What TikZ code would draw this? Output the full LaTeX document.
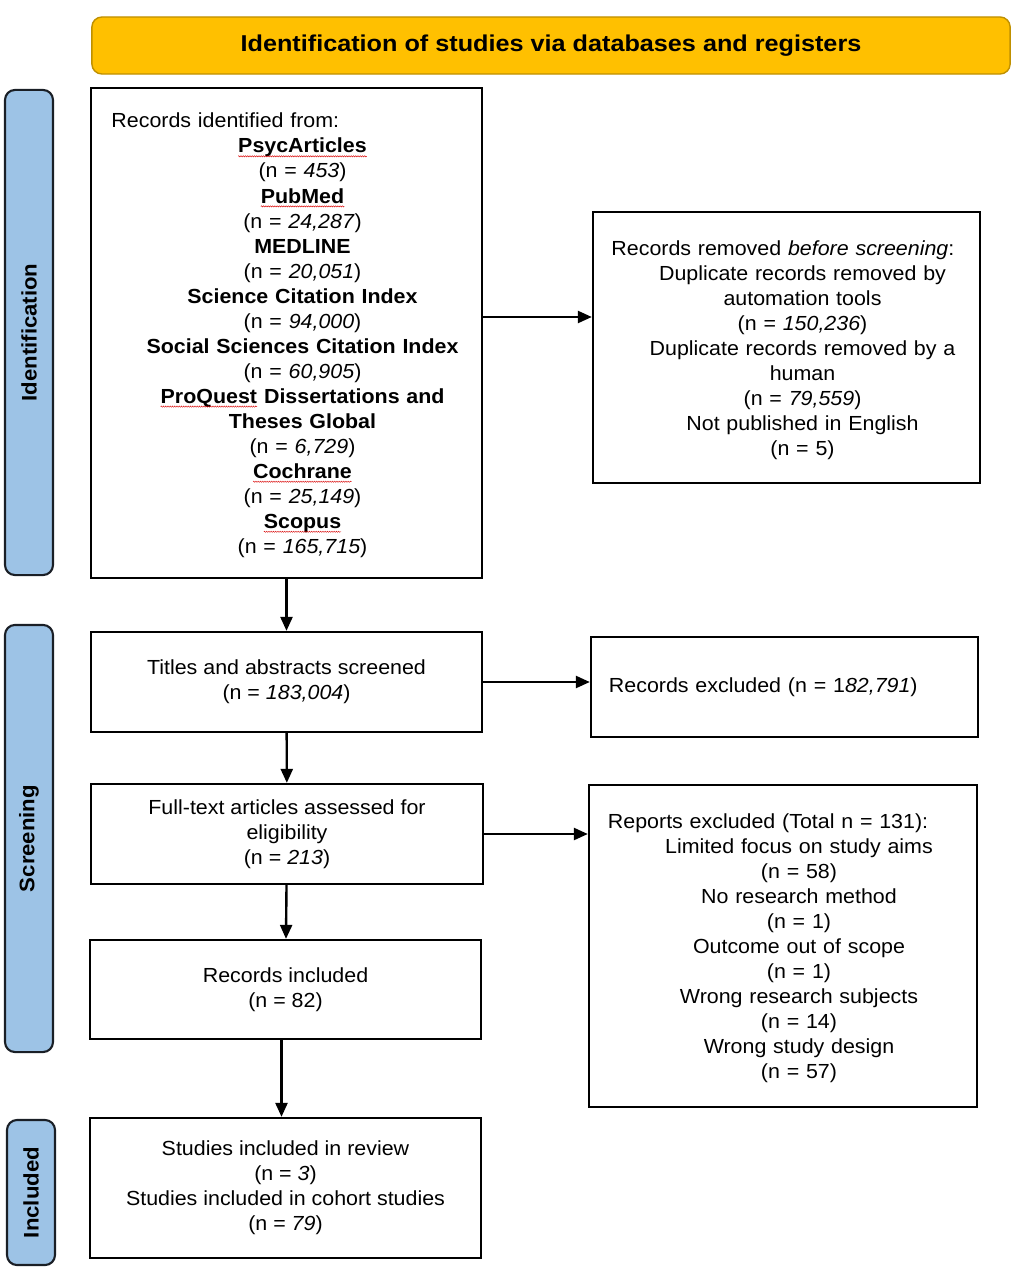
\documentclass[tikz,border=0pt]{standalone}
\usepackage{fontspec}
\setmainfont{Liberation Sans}[FakeStretch=1.05]
\newfontfamily\titlefont{Liberation Sans}[FakeStretch=1.1]
\usepackage{tikz}
\usetikzlibrary{arrows.meta,decorations.pathmorphing}
\definecolor{headfill}{HTML}{FFC000}
\definecolor{headline}{HTML}{BF9000}
\definecolor{phasefill}{HTML}{9DC3E6}
\definecolor{phaseline}{HTML}{1A1F26}
% red spell-check wave under a word
\newcommand{\spell}[1]{\tikz[baseline=(spellword.base), x=1cm, y=1cm]{%
  \node[inner sep=0pt, draw=none, outer sep=0pt] (spellword) {#1};
  \draw[red!85!black, line width=0.3pt, decorate, decoration={zigzag, amplitude=0.45pt, segment length=1.6pt}]
    ([yshift=-2.4pt]spellword.base west) -- ([yshift=-2.4pt]spellword.base east);}}
\newcommand{\nval}[1]{(n = \textit{#1})}
\newcommand{\heading}[1]{\makebox[\hsize][l]{#1}}

\begin{document}
\begin{tikzpicture}[
      x=0.025cm, y=-0.025cm,
      font=\fontsize{14.5}{17.8}\selectfont,
      box/.style={rectangle, draw=black, line width=1.6pt, fill=white, inner sep=0pt, align=center},
      phase/.style={rectangle, rounded corners=0.25cm, draw=phaseline, line width=1.5pt, fill=phasefill,
                    rotate=90, minimum height=1.2cm, inner sep=0pt, font=\fontsize{15}{18}\selectfont\bfseries},
      listtext/.style={text width=9.55cm, align=center, inner sep=0pt, xshift=0.4cm, yshift=-0.06cm},
      arrow/.style={line width=1.7pt, -{Triangle[length=0.35cm, width=0.3cm]}}
      ]
      \useasboundingbox (0,0) rectangle (1022,1280);

      % header bar across the top
      \node[rectangle, rounded corners=0.25cm, draw=headline, line width=1pt, fill=headfill,
            minimum width=22.95cm, minimum height=1.425cm, font=\titlefont\fontsize{16.3}{19}\selectfont\bfseries]
            (header) at (551,45.5) {Identification of studies via databases and registers};

      % phase bars on the left
      \node[phase, minimum width=12.125cm] (idbar) at (29,332.5) {Identification};
      \node[phase, minimum width=10.675cm] (scrbar) at (29,838.5) {Screening};
      \node[phase, minimum width=3.625cm] (incbar) at (31,1192.5) {Included};

      % identification
      \node[box, minimum width=9.775cm, minimum height=12.25cm] (identified) at (286.5,333) {};
      \node[listtext] (sources) at (identified.center) {
        \heading{Records identified from:}\\
        \textbf{\spell{PsycArticles}}\\ \nval{453}\\
        \textbf{\spell{PubMed}}\\ \nval{24,287}\\
        \textbf{MEDLINE}\\ \nval{20,051}\\
        \textbf{Science Citation Index}\\ \nval{94,000}\\
        \textbf{Social Sciences Citation Index}\\ \nval{60,905}\\
        \textbf{\spell{ProQuest} Dissertations and}\\ \textbf{Theses Global}\\ \nval{6,729}\\
        \textbf{\spell{Cochrane}}\\ \nval{25,149}\\
        \textbf{\spell{Scopus}}\\ \nval{165,715}
      };
      \node[box, minimum width=9.675cm, minimum height=6.775cm] (removed) at (786.5,347.5) {};
      \node[listtext] (removedtext) at (removed.center) {
        \heading{Records removed \textit{before screening}:}\\
        Duplicate records removed by\\ automation tools\\ \nval{150,236}\\
        Duplicate records removed by a\\ human\\ \nval{79,559}\\
        Not published in English\\ (n = 5)
      };

      % screening
      \node[box, minimum width=9.775cm, minimum height=2.5cm] (screened) at (286.5,682)
        {Titles and abstracts screened\\ \nval{183,004}};
      \node[box, minimum width=9.675cm, minimum height=2.5cm, text width=8.775cm, align=left] (excluded) at (784.5,687)
        {Records excluded (n = 1\textit{82,791})};
      \node[box, minimum width=9.8cm, minimum height=2.5cm] (assessed) at (287,834)
        {Full-text articles assessed for\\ eligibility\\ \nval{213}};
      \node[box, minimum width=9.7cm, minimum height=8.05cm] (reports) at (783,946) {};
      \node[listtext] (reportstext) at (reports.center) {
        \heading{Reports excluded (Total n = 131):}\\
        Limited focus on study aims\\ (n = 58)\\
        No research method\\ (n = 1)\\
        Outcome out of scope\\ (n = 1)\\
        Wrong research subjects\\ (n = 14)\\
        Wrong study design\\ (n = 57)
      };
      \node[box, minimum width=9.775cm, minimum height=2.475cm] (included) at (285.5,989.5)
        {Records included\\ (n = 82)};

      % included
      \node[box, minimum width=9.775cm, minimum height=3.5cm] (studies) at (285.5,1188)
        {Studies included in review\\ \nval{3}\\ Studies included in cohort studies\\ \nval{79}};

      % connectors
      \draw[arrow] (identified) -- (screened);
      \draw[arrow] ([yshift=0.4cm]identified.east) -- ([yshift=0.4cm]identified.east -| removed.west);
      \draw[arrow] (screened.east) -- (screened.east -| excluded.west);
      \draw[arrow] (screened) -- (assessed);
      \draw[arrow] (assessed.east) -- (assessed.east -| reports.west);
      \draw[arrow] (assessed) -- (included);
      \draw[arrow] ([xshift=-0.1cm]included.south) -- ([xshift=-0.1cm]studies.north);
\end{tikzpicture}
\end{document}
